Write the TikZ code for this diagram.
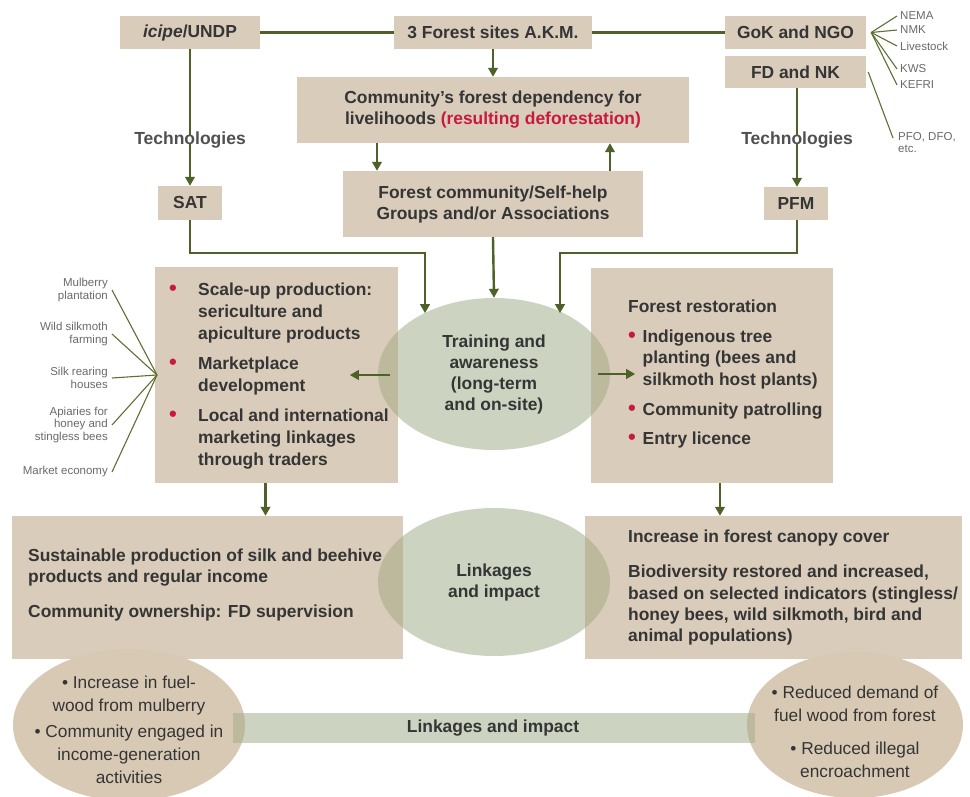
\documentclass[tikz,border=0pt]{standalone}
\usepackage{fontspec}
\setmainfont{Liberation Sans}
\usetikzlibrary{shapes.geometric,arrows.meta}
\definecolor{tanC}{HTML}{D9CCBA}
\definecolor{tanE}{HTML}{D8C9B4}
\definecolor{ellC}{HTML}{CCD3C0}
\definecolor{ovC}{HTML}{BDB99C}
\definecolor{arrC}{HTML}{4E6129}
\definecolor{fanC}{HTML}{5E7035}
\definecolor{txtC}{HTML}{353535}
\definecolor{techC}{HTML}{505050}
\definecolor{smallC}{HTML}{6A6A6A}
\definecolor{redC}{HTML}{C8193F}
\newcommand\rdot{\textcolor{redC}{\fontsize{22}{20}\selectfont\textbullet}}
\begin{document}
\begin{tikzpicture}[x=1pt,y=-1pt,
  box/.style={rectangle, fill=tanC, inner sep=0pt, draw=none},
  ell/.style={ellipse, fill=ellC, inner sep=0pt},
  elltan/.style={ellipse, fill=tanE, inner sep=0pt},
  txt/.style={text=txtC, font=\bfseries\fontsize{17.4}{21}\selectfont, inner sep=0pt},
  rtxt/.style={text=txtC, font=\fontsize{17.3}{23}\selectfont, inner sep=0pt, align=center},
  tech/.style={text=techC, font=\bfseries\fontsize{17.5}{19}\selectfont, inner sep=0pt},
  arr/.style={draw=arrC, line width=2.4pt, -{Triangle[length=9pt,width=9.5pt]}},
  ln/.style={draw=arrC, line width=2.4pt},
  fan/.style={draw=fanC, line width=1.1pt},
  small/.style={text=smallC, font=\fontsize{11.5}{12.5}\selectfont, inner sep=1pt},
]
\useasboundingbox (0,0) rectangle (970,796);
\fill[white] (0,0) rectangle (970,796);

% ---- top boxes
\node[box, minimum width=140pt, minimum height=33pt] (icipe) at (190,32.5) {};
\node[box, minimum width=198pt, minimum height=33pt] (forest3) at (493,32.5) {};
\node[box, minimum width=141pt, minimum height=33pt] (gok) at (795.5,32.5) {};
\node[box, minimum width=141pt, minimum height=32pt] (fdnk) at (795.5,72) {};
\node[box, minimum width=392pt, minimum height=66pt] (dep) at (493,110) {};
\node[box, minimum width=300pt, minimum height=66pt] (fc) at (493,204) {};
\node[box, minimum width=64pt, minimum height=34pt] (sat) at (190,203) {};
\node[box, minimum width=64pt, minimum height=33pt] (pfm) at (796,203.5) {};
\node[box, minimum width=243pt, minimum height=216pt] (lbox) at (276.5,375) {};
\node[box, minimum width=242pt, minimum height=215pt] (rbox) at (712,375.5) {};
\node[box, minimum width=391pt, minimum height=143pt] (sbox) at (207.5,587.5) {};
\node[box, minimum width=377pt, minimum height=143pt] (ibox) at (773.5,587.5) {};

% ---- ellipses
\node[ell, minimum width=232pt, minimum height=152pt] (train) at (494,374) {};
\node[ell, minimum width=232pt, minimum height=148pt] (link) at (494,582) {};
\node[rectangle, fill=ellC, inner sep=0pt, minimum width=522pt, minimum height=30pt] (bar) at (494,728) {};
\node[elltan, minimum width=232pt, minimum height=152pt] (lell) at (129,725) {};
\node[elltan, minimum width=216pt, minimum height=146pt] (rell) at (855,725) {};

% ---- overlaps
\begin{scope}
  \clip (train.center) ellipse [x radius=116pt, y radius=76pt];
  \fill[ovC] (lbox.north west) rectangle (lbox.south east);
  \fill[ovC] (rbox.north west) rectangle (rbox.south east);
\end{scope}
\begin{scope}
  \clip (link.center) ellipse [x radius=116pt, y radius=74pt];
  \fill[ovC] (sbox.north west) rectangle (sbox.south east);
  \fill[ovC] (ibox.north west) rectangle (ibox.south east);
\end{scope}
\begin{scope}
  \clip (lell.center) ellipse [x radius=116pt, y radius=76pt];
  \fill[ovC] (bar.north west) rectangle (bar.south east);
\end{scope}
\begin{scope}
  \clip (rell.center) ellipse [x radius=108pt, y radius=73pt];
  \fill[ovC] (bar.north west) rectangle (bar.south east);
\end{scope}

% ---- texts in top boxes
\node[txt] (ticipe) at (icipe.center) {\textit{icipe}/UNDP};
\node[txt] (tforest3) at (forest3.center) {3 Forest sites A.K.M.};
\node[txt] (tgok) at (gok.center) {GoK and NGO};
\node[txt] (tfdnk) at (fdnk.center) {FD and NK};
\node[txt, align=center] (tdep) at (dep.center) {Community's forest dependency for\\livelihoods \textcolor{redC}{(resulting deforestation)}};
\node[txt, align=center] (tfc) at (fc.center) {Forest community/Self-help\\Groups and/or Associations};
\node[txt] (tsat) at (sat.center) {SAT};
\node[txt] (tpfm) at (pfm.center) {PFM};
\node[tech] (tech1) at (190,140) {Technologies};
\node[tech] (tech2) at (797,140) {Technologies};

% ---- small labels right
\node[small, anchor=west] (nema) at (899,16) {NEMA};
\node[small, anchor=west] (nmk) at (899,30) {NMK};
\node[small, anchor=west] (live) at (899,46) {Livestock};
\node[small, anchor=west] (kws) at (899,69) {KWS};
\node[small, anchor=west] (kefri) at (899,85) {KEFRI};
\node[small, anchor=north west, align=left] (pfo) at (897,131) {PFO, DFO,\\etc.};
\coordinate (pfoend) at (893,138);

% ---- small labels left
\node[small, anchor=east, align=right] (mulb) at (109,290) {Mulberry\\plantation};
\node[small, anchor=east, align=right] (wild) at (109,334) {Wild silkmoth\\farming};
\node[small, anchor=east, align=right] (silk) at (109,378) {Silk rearing\\houses};
\node[small, anchor=east, align=right] (api) at (109,425) {Apiaries for\\honey and\\stingless bees};
\node[small, anchor=east, align=right] (mark) at (109,472) {Market economy};
\coordinate (fanL) at (157,375);

% ---- big box texts
\node[txt, anchor=north west, align=left] (ltext) at (169,279.5) {\fontsize{17.4}{22}\selectfont
\begin{tabular}{@{}p{29pt}@{}l@{}}
\rdot & Scale-up production:\\
 & sericulture and\\
 & apiculture products\\[8pt]
\rdot & Marketplace\\
 & development\\[8pt]
\rdot & Local and international\\
 & marketing linkages\\
 & through traders
\end{tabular}};
\node[txt, anchor=north west, align=left] (rtext) at (628,297.5) {\fontsize{17.4}{21.5}\selectfont
\begin{tabular}{@{}p{14.5pt}@{}l@{}}
\multicolumn{2}{@{}l@{}}{Forest restoration}\\[8pt]
\rdot & Indigenous tree\\
 & planting (bees and\\
 & silkmoth host plants)\\[9pt]
\rdot & Community patrolling\\[7pt]
\rdot & Entry licence
\end{tabular}};
\node[txt, align=center] (ttrain) at (train.center) {Training and\\awareness\\(long-term\\and on-site)};
\node[txt, anchor=north west, align=left] (stext) at (28,546.5) {\fontsize{17.4}{21}\selectfont
\begin{tabular}{@{}l@{}}
Sustainable production of silk and beehive\\
products and regular income\\[14pt]
Community ownership: FD supervision
\end{tabular}};
\node[txt, anchor=north west, align=left] (itext) at (628,527.5) {\fontsize{17.4}{21.3}\selectfont
\begin{tabular}{@{}l@{}}
Increase in forest canopy cover\\[14pt]
Biodiversity restored and increased,\\
based on selected indicators (stingless/\\
honey bees, wild silkmoth, bird and\\
animal populations)
\end{tabular}};
\node[txt, align=center] (tlink) at (link.center) {Linkages\\and impact};
\node[txt] (tbar) at (493,728) {Linkages and impact};
\node[rtxt] (tlell) at (129,730) {\textbullet\ Increase in fuel-\\wood from mulberry\\[3pt]\textbullet\ Community engaged in\\income-generation\\activities};
\node[rtxt] (trell) at (855,732) {\textbullet\ Reduced demand of\\fuel wood from forest\\[10pt]\textbullet\ Reduced illegal\\encroachment};

% ---- connectors
\draw[ln] (icipe.east) -- (forest3.west);
\draw[ln] (forest3.east) -- (gok.west);
\draw[arr] (forest3.south) -- (dep.north);
\draw[arr] ([xshift=-116pt]dep.south) -- ([xshift=-116pt]fc.north);
\draw[arr] ([xshift=117pt]fc.north) -- ([xshift=117pt]dep.south);
\draw[ln] (icipe.south) -- ([yshift=-4pt]tech1.north);
\draw[arr] ([yshift=4pt]tech1.south) -- (sat.north);
\draw[ln] (fdnk.south -| tech2.north) -- ([yshift=-4pt]tech2.north);
\draw[arr] ([yshift=4pt]tech2.south) -- (tech2.south |- pfm.north);
\coordinate (tl) at (425,253);
\coordinate (tr) at (560,253);
\draw[arr] (sat.south) |- (tl) -- (tl |- train.139);
\draw[arr] (tech2.south |- pfm.south) |- (tr) -- (tr |- train.41);
\draw[arr] (fc.south) -- (train.north);
\draw[arr] ([xshift=12pt,yshift=-1pt]train.west) -- ([xshift=-28pt,yshift=-1pt]train.west);
\draw[arr] ([xshift=-12pt]train.east) -- ([xshift=25pt]train.east);
\draw[arr] ([xshift=-11pt]lbox.south) -- ([xshift=-11pt]lbox.south |- sbox.north);
\draw[arr] ([xshift=8pt]rbox.south) -- ([xshift=8pt]rbox.south |- ibox.north);

% fans
\foreach \n in {nema,nmk,live,kws,kefri}{\draw[fan] ([xshift=5pt]gok.east) -- ([xshift=-2pt]\n.west);}
\draw[fan] ([xshift=2pt]fdnk.east) -- (pfoend);
\foreach \n in {mulb,wild,silk,api,mark}{\draw[fan] (fanL) -- ([xshift=3pt]\n.east);}
\end{tikzpicture}
\end{document}
